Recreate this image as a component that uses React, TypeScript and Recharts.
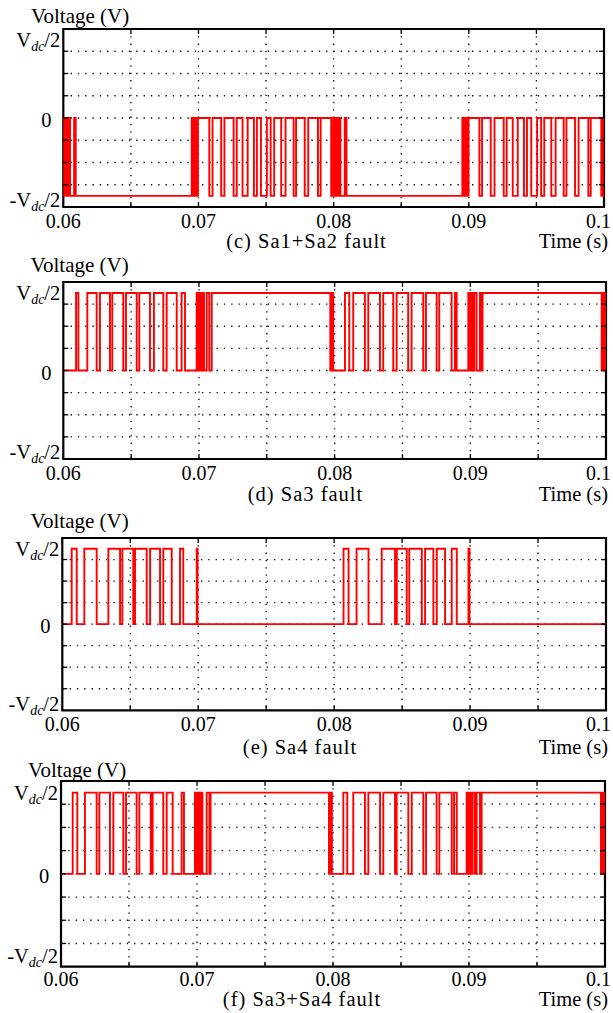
import React from 'react';
import { LineChart, Line, XAxis, YAxis, CartesianGrid, ReferenceArea } from 'recharts';

// time axis
const xTicks = [0.06, 0.065, 0.07, 0.075, 0.08, 0.085, 0.09, 0.095, 0.1];
const xTickLabels = ['0.06', '', '0.07', '', '0.08', '', '0.09', '', '0.1'];
const gridX = [0.065, 0.07, 0.075, 0.08, 0.085, 0.09, 0.095];

// voltage axis, in grid divisions (Vdc/2 sits 3.5 divisions from 0)
const vdcHalf = 3.5;
const yTicks = [-3.5, -3, -2, -1, 0, 1, 2, 3, 3.5];
const gridY = [-3, -2, -1, 0, 1, 2, 3];

// switching intervals [start, end] in seconds where the output leaves its resting level
const cPulses = [
  [0.06, 0.06006], [0.06011, 0.06017], [0.06022, 0.06028], [0.06033, 0.06039], [0.06044, 0.0605],
  [0.0608, 0.06092],
  [0.0695, 0.06956], [0.06961, 0.06967], [0.06972, 0.06978], [0.06983, 0.06989],
  [0.06996, 0.0708], [0.07104, 0.07168], [0.07192, 0.0726], [0.07283, 0.07326],
  [0.07364, 0.0741], [0.07432, 0.07462], [0.07506, 0.07534], [0.0756, 0.07612],
  [0.07644, 0.07704], [0.07722, 0.07786], [0.07812, 0.07884], [0.07904, 0.07982],
  [0.07987, 0.07993], [0.07998, 0.08004], [0.08009, 0.08015], [0.0802, 0.08026], [0.08031, 0.08037], [0.08042, 0.0805],
  [0.08082, 0.08095],
  [0.08952, 0.08958], [0.08963, 0.08969], [0.08974, 0.0898], [0.08985, 0.08991],
  [0.08998, 0.09078], [0.09098, 0.09162], [0.0919, 0.09258], [0.0928, 0.09325],
  [0.09362, 0.09408], [0.0943, 0.09462], [0.09505, 0.09535], [0.09558, 0.0961],
  [0.09642, 0.09702], [0.09722, 0.09786], [0.09812, 0.09884], [0.09902, 0.0998],
  [0.09986, 0.09992],
];

const dPulses = [
  [0.06094, 0.06111], [0.06177, 0.06246], [0.0627, 0.06344], [0.06361, 0.06442],
  [0.06462, 0.06541], [0.0656, 0.06639], [0.06668, 0.06737], [0.06762, 0.06836],
  [0.06872, 0.06897],
  [0.06983, 0.06989], [0.06994, 0.07], [0.07005, 0.07011], [0.07016, 0.07022], [0.07027, 0.07037],
  [0.07057, 0.07076], [0.07094, 0.07968],
  [0.07973, 0.07979], [0.07984, 0.0799],
  [0.08076, 0.08108], [0.08137, 0.08223], [0.08248, 0.08334], [0.08358, 0.08432],
  [0.08457, 0.08542], [0.08567, 0.08653], [0.08673, 0.08752], [0.08771, 0.08862],
  [0.08887, 0.08899],
  [0.08985, 0.08991], [0.08996, 0.09002], [0.09007, 0.09013], [0.09018, 0.09024], [0.09029, 0.09046],
  [0.09071, 0.09084], [0.0909, 0.09968],
  [0.09973, 0.09979], [0.09984, 0.0999], [0.09994, 0.09998],
];

const ePulses = [
  [0.06069, 0.06106], [0.06162, 0.06253], [0.06339, 0.06425], [0.06442, 0.06522],
  [0.06535, 0.06621], [0.06646, 0.06719], [0.06743, 0.06805], [0.06866, 0.0689],
  [0.06989, 0.06995],
  [0.08069, 0.08106], [0.08165, 0.08253], [0.0835, 0.08448], [0.08461, 0.08534],
  [0.08553, 0.08645], [0.08669, 0.0873], [0.08755, 0.08816], [0.08865, 0.08902],
  [0.08988, 0.08996],
];

const fPulses = [
  [0.06086, 0.0612], [0.06176, 0.06262], [0.06282, 0.0636], [0.06385, 0.06458],
  [0.06478, 0.06556], [0.06576, 0.0666], [0.06674, 0.06752], [0.06777, 0.06821],
  [0.06887, 0.06904],
  [0.06985, 0.06991], [0.06996, 0.07002], [0.07007, 0.07013], [0.07018, 0.07024], [0.07029, 0.0704],
  [0.07071, 0.07091], [0.071, 0.0797],
  [0.07975, 0.07981], [0.07986, 0.07992],
  [0.08076, 0.08105], [0.08149, 0.08235], [0.0826, 0.08346], [0.0837, 0.08456],
  [0.08468, 0.08554], [0.08579, 0.08664], [0.08684, 0.08762], [0.08782, 0.08873],
  [0.0889, 0.0891],
  [0.08983, 0.08989], [0.08994, 0.09], [0.09005, 0.09011], [0.09016, 0.09022], [0.09027, 0.09044],
  [0.09056, 0.09081], [0.09093, 0.0997],
  [0.09975, 0.09981], [0.09986, 0.09992], [0.09995, 0.09999],
];

const toSteps = (pulses: number[][], base: number, active: number) => {
  const pts = [{ t: 0.06, v: base }];
  pulses.forEach(([a, b]) => {
    pts.push({ t: a, v: active });
    pts.push({ t: b, v: base });
  });
  pts.push({ t: 0.1, v: base });
  return pts;
};

const FONT = "'Liberation Serif', 'Times New Roman', serif";

const panels = [
  { id: 'c', caption: '(c) Sa1+Sa2 fault', data: toSteps(cPulses, -vdcHalf, 0),
    top: 29.3, bottom: 207.3, left: 63.3, right: 604, titleX: 31, titleY: 23.3, tickDy: 21, negDy: 11, capX: 306.5, capY: 247.5 },
  { id: 'd', caption: '(d) Sa3 fault', data: toSteps(dPulses, 0, vdcHalf),
    top: 282.3, bottom: 459.3, left: 63.3, right: 606, titleX: 30.5, titleY: 271.7, tickDy: 21.4, negDy: 11, capX: 305.5, capY: 501 },
  { id: 'e', caption: '(e) Sa4 fault', data: toSteps(ePulses, 0, vdcHalf),
    top: 537.7, bottom: 710, left: 62.3, right: 606, titleX: 30.5, titleY: 528.3, tickDy: 20.7, negDy: 11, capX: 300, capY: 754 },
  { id: 'f', caption: '(f) Sa3+Sa4 fault', data: toSteps(fPulses, 0, vdcHalf),
    top: 781, bottom: 966.7, left: 61, right: 605, titleX: 28, titleY: 776.7, tickDy: 19.5, negDy: 8, capX: 302, capY: 1005.5 },
];

const VdcLabel = ({ x, y, neg }: { x: number; y: number; neg: boolean }) => (
  <text x={x} y={y} textAnchor="end" fontFamily={FONT} fontSize={20.5} fill="#000">
    {neg ? '-V' : 'V'}
    <tspan fontStyle="italic" fontSize={14} dy={4}>dc</tspan>
    <tspan dy={-4}>/2</tspan>
  </text>
);

const Panel = ({ p }: { p: (typeof panels)[number] }) => {
  const padTop = 12;
  const padBottom = 30;
  const plotH = p.bottom - p.top;
  const plotW = p.right - p.left;

  const renderXTick = (props: any) => {
    const { x, y, index } = props;
    const label = xTickLabels[index];
    const last = index === xTicks.length - 1;
    return (
      <g>
        <line x1={x} x2={x} y1={y} y2={y - 5} stroke="#000" strokeWidth={1.3} />
        <line x1={x} x2={x} y1={y - plotH} y2={y - plotH + 5} stroke="#000" strokeWidth={1.3} />
        {label ? (
          <text
            x={last ? 611 : x}
            y={y + p.tickDy}
            textAnchor={last ? 'end' : 'middle'}
            fontFamily={FONT}
            fontSize={20}
            fill="#000"
          >
            {label}
          </text>
        ) : null}
      </g>
    );
  };

  const renderYTick = (props: any) => {
    const { x, y, payload } = props;
    const v = payload.value;
    const isGrid = Math.abs(v) <= 3;
    return (
      <g>
        {isGrid ? (
          <>
            <line x1={x} x2={x + 5} y1={y} y2={y} stroke="#000" strokeWidth={1.3} />
            <line x1={x + plotW} x2={x + plotW - 5} y1={y} y2={y} stroke="#000" strokeWidth={1.3} />
          </>
        ) : null}
        {v === 0 ? (
          <text x={x - 17} y={y + 9} textAnchor="middle" fontFamily={FONT} fontSize={20.5} fill="#000">0</text>
        ) : null}
        {v === vdcHalf ? <VdcLabel x={x - 3} y={y + 7} neg={false} /> : null}
        {v === -vdcHalf ? <VdcLabel x={x - 3} y={y + p.negDy} neg={true} /> : null}
      </g>
    );
  };

  return (
    <div style={{ position: 'absolute', left: 0, top: p.top - padTop }}>
      <LineChart
        width={613}
        height={plotH + padTop + padBottom}
        data={p.data}
        margin={{ top: padTop, bottom: 0, left: 0, right: 613 - p.right }}
      >
        <CartesianGrid
          stroke="#000"
          strokeWidth={1.3}
          strokeDasharray="1.3 6"
          horizontalValues={gridY}
          verticalValues={gridX}
        />
        <XAxis
          dataKey="t"
          type="number"
          domain={[0.06, 0.1]}
          ticks={xTicks}
          interval={0}
          height={padBottom}
          tickSize={0}
          tickMargin={0}
          axisLine={false}
          tickLine={false}
          tick={renderXTick}
          allowDataOverflow
        />
        <YAxis
          type="number"
          domain={[-4, 4]}
          ticks={yTicks}
          interval={0}
          width={p.left}
          tickSize={0}
          tickMargin={0}
          axisLine={false}
          tickLine={false}
          tick={renderYTick}
          allowDataOverflow
        />
        <ReferenceArea x1={0.06} x2={0.1} y1={-4} y2={4} fill="none" fillOpacity={0} stroke="#000" strokeWidth={2.2} />
        <Line
          type="stepAfter"
          dataKey="v"
          stroke="#ff0000"
          strokeWidth={1.9}
          dot={false}
          activeDot={false}
          isAnimationActive={false}
        />
      </LineChart>
    </div>
  );
};

export default function App() {
  return (
    <div style={{ position: 'absolute', left: 0, top: 0, width: 613, height: 1013, background: '#fff', overflow: 'hidden' }}>
      <svg width={613} height={1013} style={{ position: 'absolute', left: 0, top: 0 }}>
        {panels.map((p) => (
          <g key={p.id}>
            <text x={p.titleX} y={p.titleY} fontFamily={FONT} fontSize={21} fill="#000">Voltage (V)</text>
            <text x={p.capX} y={p.capY} textAnchor="middle" fontFamily={FONT} fontSize={20.5} letterSpacing={1} fill="#000">
              {p.caption}
            </text>
            <text x={608} y={p.capY} textAnchor="end" fontFamily={FONT} fontSize={20.5} fill="#000">Time (s)</text>
          </g>
        ))}
      </svg>
      {panels.map((p) => (
        <Panel key={p.id} p={p} />
      ))}
    </div>
  );
}
